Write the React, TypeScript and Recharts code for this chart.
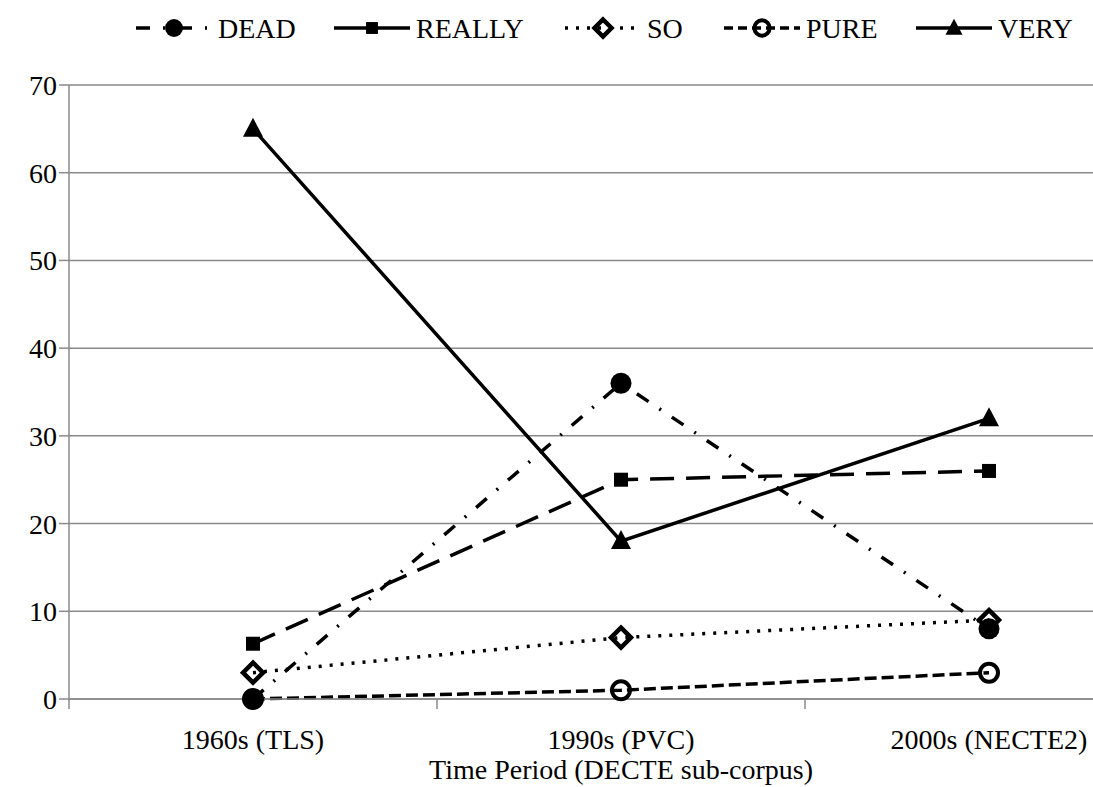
import React from "react";
import { LineChart, Line, XAxis, YAxis, CartesianGrid, Legend, Label } from "recharts";

// categories and series values
const periods = ["1960s (TLS)", "1990s (PVC)", "2000s (NECTE2)"];
const dead = [0, 36, 8];
const really = [6.3, 25, 26];
const so = [3, 7, 9];
const pure = [0, 1, 3];
const very = [65, 18, 32];
const yTicks = [0, 10, 20, 30, 40, 50, 60, 70];
const axisTitle = "Time Period (DECTE sub-corpus)";

const data = periods.map((period, i) => ({
  period,
  DEAD: dead[i],
  REALLY: really[i],
  SO: so[i],
  PURE: pure[i],
  VERY: very[i],
}));

const FONT = "'Liberation Serif', 'Times New Roman', serif";
const GRID = "#8a8a8a";
const CHART_W = 1190;
const CHART_H = 787;
const PLOT_LEFT = 69;
const PLOT_RIGHT = 1173;
const HALF_BAND = (PLOT_RIGHT - PLOT_LEFT) / periods.length / 2;
const LEGEND_H = 56;

type Marker = "circle" | "square" | "diamond" | "ring" | "triangle";

const series: {
  key: string;
  dash?: string;
  legendDash?: string;
  marker: Marker;
  legendX: number;
}[] = [
  { key: "DEAD", dash: "14 13 2 13", legendDash: "14 13 2 13", marker: "circle", legendX: 136 },
  { key: "REALLY", dash: "24 12", marker: "square", legendX: 334 },
  { key: "SO", dash: "3 8", legendDash: "3 8", marker: "diamond", legendX: 565 },
  { key: "PURE", dash: "12 5", legendDash: "9 5", marker: "ring", legendX: 724 },
  { key: "VERY", marker: "triangle", legendX: 916 },
];

function drawMarker(kind: Marker, cx: number, cy: number, s = 1, key?: string) {
  switch (kind) {
    case "circle":
      return <circle key={key} cx={cx} cy={cy} r={10.5 * s} fill="#000" />;
    case "square": {
      const h = 7 * s;
      return <rect key={key} x={cx - h} y={cy - h} width={2 * h} height={2 * h} fill="#000" />;
    }
    case "diamond": {
      const d = 10 * s;
      return (
        <polygon
          key={key}
          points={`${cx},${cy - d} ${cx + d},${cy} ${cx},${cy + d} ${cx - d},${cy}`}
          fill="none"
          stroke="#000"
          strokeWidth={4.5}
        />
      );
    }
    case "ring":
      return <circle key={key} cx={cx} cy={cy} r={9 * s} fill="none" stroke="#000" strokeWidth={4} />;
    case "triangle": {
      const w = 10 * s;
      return (
        <polygon
          key={key}
          points={`${cx},${cy - 11 * s} ${cx + w},${cy + 8 * s} ${cx - w},${cy + 8 * s}`}
          fill="#000"
        />
      );
    }
  }
}

const renderLegend = () => (
  <div style={{ width: 1093, height: LEGEND_H }}>
    <svg width={1093} height={LEGEND_H} style={{ display: "block" }}>
      {series.map((s) => (
        <g key={s.key}>
          <line
            x1={s.legendX}
            x2={s.legendX + 76}
            y1={28}
            y2={28}
            stroke="#000"
            strokeWidth={3.5}
            strokeDasharray={s.legendDash}
          />
          {drawMarker(s.marker, s.legendX + 38, 28, 0.85)}
          <text x={s.legendX + 82} y={38} fontFamily={FONT} fontSize={28} fill="#000">
            {s.key}
          </text>
        </g>
      ))}
    </svg>
  </div>
);

// category label centred in its band, tick marks on the band edges
const PeriodTick = (props: any) => {
  const { x, y, payload, index } = props;
  return (
    <g>
      <line x1={x - HALF_BAND} x2={x - HALF_BAND} y1={y} y2={y + 10} stroke={GRID} strokeWidth={1.5} />
      {index === periods.length - 1 && (
        <line x1={x + HALF_BAND} x2={x + HALF_BAND} y1={y} y2={y + 10} stroke={GRID} strokeWidth={1.5} />
      )}
      <text x={x} y={y + 50} textAnchor="middle" fontFamily={FONT} fontSize={28} fill="#000">
        {payload.value}
      </text>
    </g>
  );
};

const AxisTitle = (props: any) => {
  const { viewBox } = props;
  return (
    <text
      x={viewBox.x + viewBox.width / 2}
      y={viewBox.y + 80}
      textAnchor="middle"
      fontFamily={FONT}
      fontSize={28}
      fill="#000"
    >
      {axisTitle}
    </text>
  );
};

export default function App() {
  return (
    <div
      style={{
        position: "absolute",
        left: 0,
        top: 0,
        width: 1093,
        height: 787,
        overflow: "hidden",
        background: "#fff",
      }}
    >
      <LineChart
        width={CHART_W}
        height={CHART_H}
        data={data}
        margin={{ top: 85 - LEGEND_H, right: CHART_W - PLOT_RIGHT, bottom: 0, left: 0 }}
      >
        <CartesianGrid vertical={false} stroke={GRID} strokeWidth={1.5} />
        <XAxis
          dataKey="period"
          height={88}
          padding={{ left: HALF_BAND, right: HALF_BAND }}
          axisLine={{ stroke: GRID, strokeWidth: 1.5 }}
          tickLine={false}
          tickSize={0}
          tickMargin={0}
          tick={<PeriodTick />}
          interval={0}
        >
          <Label content={<AxisTitle />} />
        </XAxis>
        <YAxis
          width={PLOT_LEFT}
          domain={[0, 70]}
          ticks={yTicks}
          tickSize={10}
          tickMargin={2}
          axisLine={{ stroke: GRID, strokeWidth: 1.5 }}
          tickLine={{ stroke: GRID, strokeWidth: 1.5 }}
          tick={{ fill: "#000", fontSize: 28, fontFamily: FONT }}
        />
        <Legend
          verticalAlign="top"
          content={renderLegend}
          wrapperStyle={{ top: 0, left: 0, width: 1093, height: LEGEND_H }}
        />
        {series.map((s) => (
          <Line
            key={s.key}
            dataKey={s.key}
            stroke="#000"
            strokeWidth={3.5}
            strokeDasharray={s.dash}
            dot={(p: any) => drawMarker(s.marker, p.cx, p.cy, 1, `${s.key}-${p.index}`)}
            activeDot={false}
            isAnimationActive={false}
          />
        ))}
      </LineChart>
    </div>
  );
}
